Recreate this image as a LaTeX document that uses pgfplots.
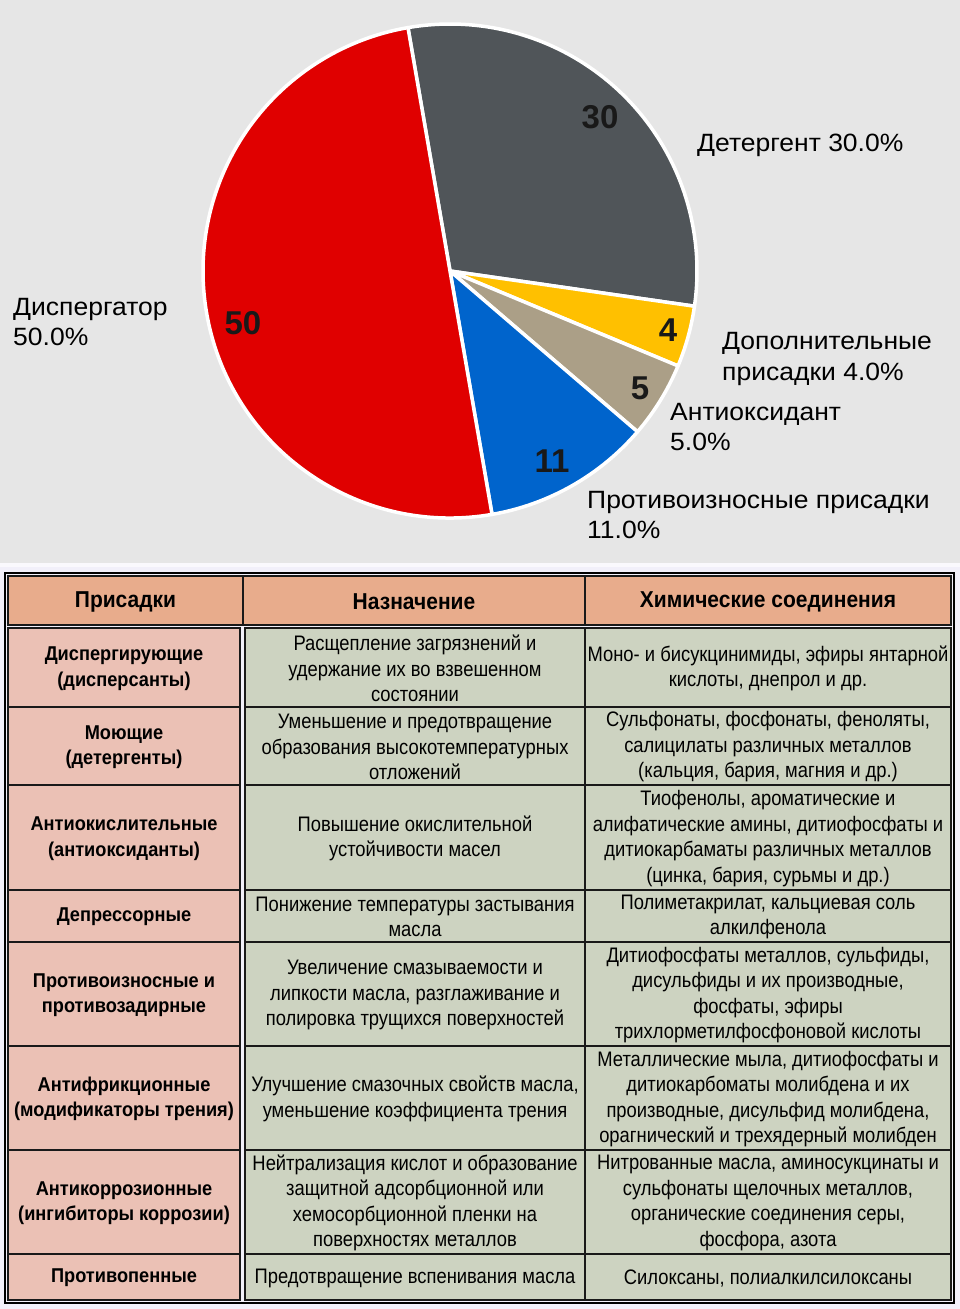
\documentclass[border=0pt]{standalone}
\usepackage{pgfplots}
\pgfplotsset{compat=1.18}
\usepackage{fontspec}
\setmainfont{Liberation Sans}
\newfontfamily\lblff[FakeStretch=1.06]{Liberation Sans}
\newfontfamily\regff[FakeStretch=0.875]{Liberation Sans}
\newfontfamily\boldff[FakeStretch=0.91]{Liberation Sans}
\newfontfamily\hdrff[FakeStretch=0.913]{Liberation Sans}
\definecolor{bgtop}{HTML}{E6E6E6}
\definecolor{bgbot}{HTML}{F2F0FA}
\definecolor{pred}{HTML}{E00000}
\definecolor{pgray}{HTML}{505559}
\definecolor{pyel}{HTML}{FFC000}
\definecolor{ptan}{HTML}{AB9F87}
\definecolor{pblue}{HTML}{0064CC}
\definecolor{hdr}{HTML}{E8AC8C}
\definecolor{cpink}{HTML}{EBC1B5}
\definecolor{cgreen}{HTML}{CDD3C1}
\def\pa{99.8}
\def\pr{247pt}
\newcommand\lblfont{\lblff\fontsize{25}{30.5}\selectfont}
\newcommand\numfont{\fontsize{33}{36}\selectfont\bfseries}
\newcommand\hfont{\hdrff\fontsize{23}{25.5}\selectfont\bfseries}
\newcommand\bfont{\boldff\fontsize{20}{25.5}\selectfont\bfseries}
\newcommand\rfont{\regff\fontsize{21}{25.5}\selectfont}
% cell: x1 y1 x2 y2 colour font text
\newcommand\cell[7]{%
  \filldraw[fill=#5, draw=black!90, line width=1.6pt] (axis cs:#1,#2) rectangle (axis cs:#3,#4);
  \node[align=center, font=#6, inner sep=0pt] at (axis cs:{(#1+#3)/2},{(#2+#4)/2+1}) {#7};}
\newcommand\row[6]{%
  \cell{8}{#1}{240}{#2}{cpink}{\bfont}{#3}
  \cell{245}{#1}{585}{#2}{cgreen}{\rfont}{#4}
  \cell{585}{#1}{951}{#2}{cgreen}{\rfont}{#5}}
\begin{document}
\begin{tikzpicture}
\begin{axis}[x=1pt, y=1pt, xmin=0, xmax=960, ymin=0, ymax=1309, y dir=reverse,
  hide axis, clip=false, scale only axis]
% backgrounds
\fill[bgtop] (axis cs:0,0) rectangle (axis cs:960,563);
\fill[white!60!bgbot] (axis cs:0,563) rectangle (axis cs:960,567);
\fill[bgbot] (axis cs:0,567) rectangle (axis cs:960,1309);
% pie: values 30, 4, 5, 11, 50 (percent), clockwise from 99.8 deg
\filldraw[fill=pgray, draw=white, line width=3.5pt, line join=round] (axis cs:450,271) -- ++(\pa:\pr) arc[start angle=\pa, end angle={\pa-3.6*30}, radius=\pr] -- cycle;
\filldraw[fill=pyel, draw=white, line width=3.5pt, line join=round] (axis cs:450,271) -- ++({\pa-3.6*30}:\pr) arc[start angle={\pa-3.6*30}, end angle={\pa-3.6*(30+4)}, radius=\pr] -- cycle;
\filldraw[fill=ptan, draw=white, line width=3.5pt, line join=round] (axis cs:450,271) -- ++({\pa-3.6*(30+4)}:\pr) arc[start angle={\pa-3.6*(30+4)}, end angle={\pa-3.6*(30+4+5)}, radius=\pr] -- cycle;
\filldraw[fill=pblue, draw=white, line width=3.5pt, line join=round] (axis cs:450,271) -- ++({\pa-3.6*(30+4+5)}:\pr) arc[start angle={\pa-3.6*(30+4+5)}, end angle={\pa-3.6*(30+4+5+11)}, radius=\pr] -- cycle;
\filldraw[fill=pred, draw=white, line width=3.5pt, line join=round] (axis cs:450,271) -- ++({\pa-3.6*(30+4+5+11)}:\pr) arc[start angle={\pa-3.6*(30+4+5+11)}, end angle={\pa-3.6*(30+4+5+11+50)}, radius=\pr] -- cycle;
% wedge numbers
\node[font=\numfont, text=black!90] at (axis cs:600,117) {30};
\node[font=\numfont, text=black!90] at (axis cs:243,323) {50};
\node[font=\numfont, text=black!90] at (axis cs:668,330) {4};
\node[font=\numfont, text=black!90] at (axis cs:640,388) {5};
\node[font=\numfont, text=black!90] at (axis cs:552,461) {11};
% outer labels
\node[font=\lblfont, anchor=west, inner sep=0pt] at (axis cs:697,145) {Детергент 30.0\%};
\node[font=\lblfont, anchor=west, inner sep=0pt, align=left] at (axis cs:13,322) {Диспергатор\\50.0\%};
\node[font=\lblfont, anchor=west, inner sep=0pt, align=left] at (axis cs:722,359) {Дополнительные\\присадки 4.0\%};
\node[font=\lblfont, anchor=west, inner sep=0pt, align=left] at (axis cs:670,427) {Антиоксидант\\5.0\%};
\node[font=\lblfont, anchor=west, inner sep=0pt, align=left] at (axis cs:587,515) {Противоизносные присадки\\11.0\%};
% table frame
\filldraw[fill=bgbot, draw=black, line width=2pt] (axis cs:5,573) rectangle (axis cs:954,1303);
% header
\cell{8}{576}{243}{625}{hdr}{\hfont}{Присадки}
\cell{243}{576}{585}{625}{hdr}{\hfont}{Назначение}
\cell{585}{576}{951}{625}{hdr}{\hfont}{Химические соединения}
% body
\row{628}{707}{Диспергирующие\\(дисперсанты)}{Расщепление загрязнений и\\удержание их во взвешенном\\состоянии}{Моно- и бисукцинимиды, эфиры янтарной\\кислоты, днепрол и др.}{}
\row{707}{785}{Моющие\\(детергенты)}{Уменьшение и предотвращение\\образования высокотемпературных\\отложений}{Сульфонаты, фосфонаты, феноляты,\\салицилаты различных металлов\\(кальция, бария, магния и др.)}{}
\row{785}{890}{Антиокислительные\\(антиоксиданты)}{Повышение окислительной\\устойчивости масел}{Тиофенолы, ароматические и\\алифатические амины, дитиофосфаты и\\дитиокарбаматы различных металлов\\(цинка, бария, сурьмы и др.)}{}
\row{890}{942}{Депрессорные}{Понижение температуры застывания\\масла}{Полиметакрилат, кальциевая соль\\алкилфенола}{}
\row{942}{1046}{Противоизносные и\\противозадирные}{Увеличение смазываемости и\\липкости масла, разглаживание и\\полировка трущихся поверхностей}{Дитиофосфаты металлов, сульфиды,\\дисульфиды и их производные,\\фосфаты, эфиры\\трихлорметилфосфоновой кислоты}{}
\row{1046}{1150}{Антифрикционные\\(модификаторы трения)}{Улучшение смазочных свойств масла,\\уменьшение коэффициента трения}{Металлические мыла, дитиофосфаты и\\дитиокарбоматы молибдена и их\\производные, дисульфид молибдена,\\орагнический и трехядерный молибден}{}
\row{1150}{1254}{Антикоррозионные\\(ингибиторы коррозии)}{Нейтрализация кислот и образование\\защитной адсорбционной или\\хемосорбционной пленки на\\поверхностях металлов}{Нитрованные масла, аминосукцинаты и\\сульфонаты щелочных металлов,\\органические соединения серы,\\фосфора, азота}{}
\row{1254}{1300}{Противопенные}{Предотвращение вспенивания масла}{Силоксаны, полиалкилсилоксаны}{}
\end{axis}
\end{tikzpicture}
\end{document}
